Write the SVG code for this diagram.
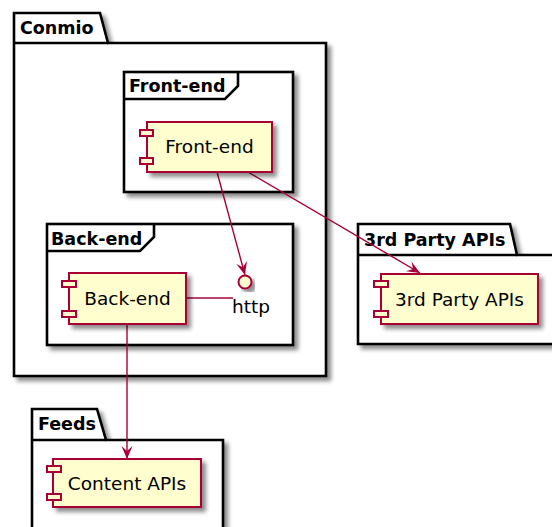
<svg xmlns="http://www.w3.org/2000/svg" width="552" height="527" viewBox="0 0 552 527">
  <style>
    .pkg { fill: #ffffff; stroke: #000000; stroke-width: 2.6; filter: url(#sh); }
    .pkgline { fill: none; stroke: #000000; stroke-width: 2.6; }
    .title { font-family: "DejaVu Sans", sans-serif; font-weight: bold; font-size: 17.5px; fill: #000000; }
    .comp { fill: #FEFECE; stroke: #A80036; stroke-width: 2; filter: url(#sh); }
    .port { fill: #FEFECE; stroke: #A80036; stroke-width: 2; }
    .label { font-family: "DejaVu Sans", sans-serif; font-size: 18.5px; fill: #000000; text-anchor: middle; }
    .edge { fill: none; stroke: #A80036; stroke-width: 1.4; }
  </style>
  <defs>
    <filter id="sh" x="-10%" y="-10%" width="130%" height="130%">
      <feGaussianBlur in="SourceAlpha" stdDeviation="2"/>
      <feOffset dx="4" dy="4" result="o"/>
      <feComponentTransfer><feFuncA type="linear" slope="0.45"/></feComponentTransfer>
      <feMerge><feMergeNode/><feMergeNode in="SourceGraphic"/></feMerge>
    </filter>
    <marker id="arr" viewBox="-14 -7 15 14" refX="0" refY="0" markerWidth="15" markerHeight="14" markerUnits="userSpaceOnUse" orient="auto">
      <path d="M0,0 L-13,-5.5 L-8,0 L-13,5.5 Z" fill="#A80036"/>
    </marker>
  </defs>

  <rect width="552" height="527" fill="#ffffff"/>

  <!-- package: Conmio -->
  <g id="conmio">
    <path class="pkg" d="M14,13 H100 L108,43 H326 V376 H14 Z"/>
    <path class="pkgline" d="M14,43 H108"/>
    <text class="title" x="20" y="34">Conmio</text>
  </g>

  <!-- frame: Front-end -->
  <g id="frame-frontend">
    <rect class="pkg" x="124" y="72" width="169" height="120"/>
    <path class="pkgline" d="M124,99 H225 L238,86 V72"/>
    <text class="title" x="129" y="92">Front-end</text>
  </g>

  <!-- frame: Back-end -->
  <g id="frame-backend">
    <rect class="pkg" x="47" y="224" width="246" height="121"/>
    <path class="pkgline" d="M47,251 H140 L154,237 V224"/>
    <text class="title" x="51" y="245">Back-end</text>
  </g>

  <!-- package: 3rd Party APIs -->
  <g id="pkg-3rdparty">
    <path class="pkg" d="M358,224 H510 L517,255 H562 V344 H358 Z"/>
    <path class="pkgline" d="M358,255 H517"/>
    <text class="title" x="364" y="246">3rd Party APIs</text>
  </g>

  <!-- package: Feeds -->
  <g id="pkg-feeds">
    <path class="pkg" d="M32,409 H97 L106,440 H223 V545 H32 Z"/>
    <path class="pkgline" d="M32,440 H106"/>
    <text class="title" x="38" y="430">Feeds</text>
  </g>

  <!-- connectors -->
  <g id="connectors">
    <path class="edge" d="M217,172 L245,275" marker-end="url(#arr)"/>
    <path class="edge" d="M248,172 L420,273" marker-end="url(#arr)"/>
    <path class="edge" d="M127,324 L127,459" marker-end="url(#arr)"/>
    <path class="edge" d="M186,298 H233"/>
  </g>

  <!-- component: Front-end -->
  <g id="comp-frontend">
    <rect class="comp" x="147" y="122" width="125" height="50"/>
    <rect class="port" x="140" y="130" width="13" height="6"/>
    <rect class="port" x="140" y="158" width="13" height="6"/>
    <text class="label" x="209.5" y="153">Front-end</text>
  </g>

  <!-- component: Back-end -->
  <g id="comp-backend">
    <rect class="comp" x="69" y="273" width="117" height="51"/>
    <rect class="port" x="62" y="281" width="14" height="6"/>
    <rect class="port" x="62" y="311" width="14" height="6"/>
    <text class="label" x="127.5" y="305">Back-end</text>
  </g>

  <!-- interface: http -->
  <g id="iface-http">
    <circle cx="245" cy="282" r="6.5" fill="#FEFECE" stroke="#A80036" stroke-width="2" filter="url(#sh)"/>
    <text class="label" x="251" y="313">http</text>
  </g>

  <!-- component: 3rd Party APIs -->
  <g id="comp-3rdparty">
    <rect class="comp" x="381" y="274" width="157" height="50"/>
    <rect class="port" x="374" y="281" width="14" height="6"/>
    <rect class="port" x="374" y="311" width="14" height="6"/>
    <text class="label" x="459.5" y="306">3rd Party APIs</text>
  </g>

  <!-- component: Content APIs -->
  <g id="comp-content">
    <rect class="comp" x="53" y="459" width="148" height="48"/>
    <rect class="port" x="47" y="466" width="14" height="6"/>
    <rect class="port" x="47" y="494" width="14" height="6"/>
    <text class="label" x="127" y="490">Content APIs</text>
  </g>
</svg>
